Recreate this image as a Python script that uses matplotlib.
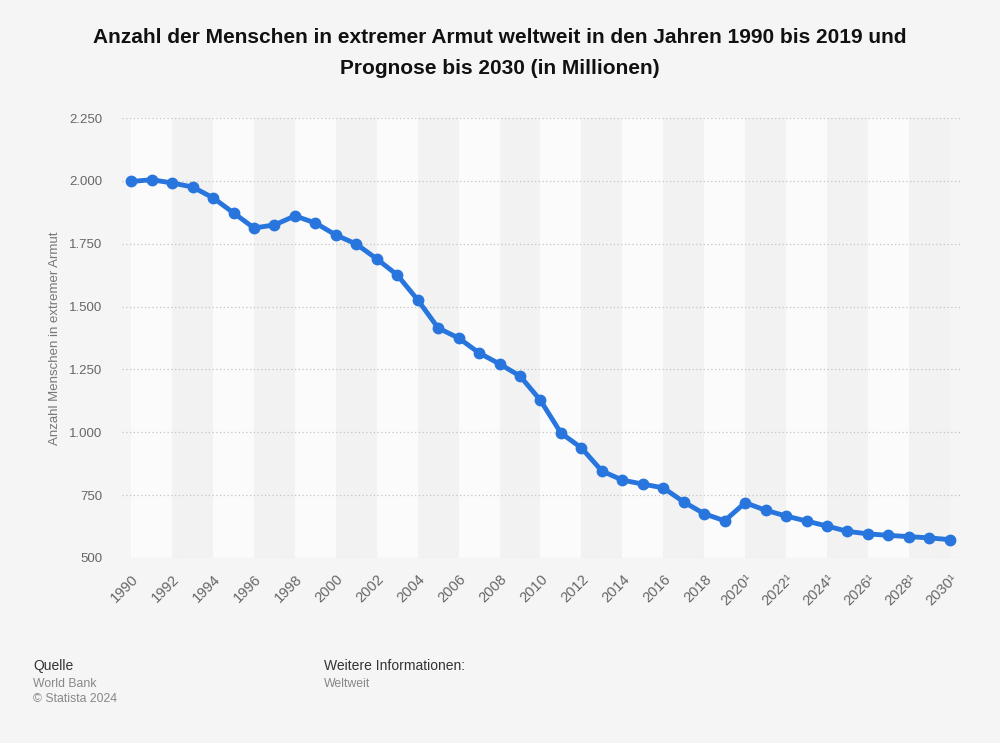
import numpy as np
from matplotlib import pyplot as plt

plt.rcParams['font.family'] = ['Liberation Sans', 'DejaVu Sans']

# data (millions of people in extreme poverty)
years = list(range(1990, 2031))
values = [1998, 2005, 1992, 1976, 1933, 1873, 1813, 1825, 1861, 1833,
          1785, 1749, 1690, 1626, 1527, 1415, 1375, 1316, 1272, 1224,
          1127, 997, 938, 846, 810, 794, 779, 723, 676, 648,
          720, 690, 667, 647, 627, 606, 596, 590, 585, 580, 573]
forecast_from = 2020

y_ticks = [500, 750, 1000, 1250, 1500, 1750, 2000, 2250]
y_tick_labels = ['500', '750', '1.000', '1.250', '1.500', '1.750', '2.000', '2.250']
x_ticks = list(range(1990, 2031, 2))
x_tick_labels = [str(y) + ('¹' if y >= forecast_from else '') for y in x_ticks]

bg = '#f5f5f5'
fig = plt.figure(figsize=(10, 7.43), dpi=100, facecolor=bg)
ax = fig.add_axes([0.122, 0.249, 0.838, 0.592])
ax.set_facecolor(bg)

x_lo, x_hi = 1989.55, 2030.5
ax.set_xlim(x_lo, x_hi)
ax.set_ylim(500, 2250)

# alternating vertical bands, two years each
for i, start in enumerate(range(1990, 2030, 2)):
    col = '#fbfbfb' if i % 2 == 0 else '#f2f2f2'
    ax.axvspan(start, min(start + 2, x_hi), color=col, zorder=0, lw=0)

for t in y_ticks:
    ax.axhline(t, color='#c4c4c4', lw=0.9, ls=(0, (1, 2)), zorder=1)

ax.plot(years, values, color='#2876dd', lw=3.5, marker='o', markersize=7.5,
        solid_capstyle='round', zorder=3, clip_on=False)

for s in ax.spines.values():
    s.set_visible(False)
ax.tick_params(length=0)
ax.set_yticks(y_ticks)
ax.set_yticklabels(y_tick_labels, color='#666666', fontsize=9.5)
ax.tick_params(axis='y', pad=14)
ax.set_xticks(x_ticks)
ax.set_xticklabels(x_tick_labels, rotation=45, ha='right', rotation_mode='anchor',
                   color='#666666', fontsize=10.5)
ax.tick_params(axis='x', pad=10)

ax.set_ylabel('Anzahl Menschen in extremer Armut', color='#777777', fontsize=9.5)
ax.yaxis.set_label_coords(-0.073, 0.5)

fig.text(0.5, 0.962, 'Anzahl der Menschen in extremer Armut weltweit in den Jahren 1990 bis 2019 und\n'
         'Prognose bis 2030 (in Millionen)', ha='center', va='top', fontsize=15,
         fontweight='bold', color='#111111', linespacing=1.8)

fig.text(0.033, 0.098, 'Quelle', fontsize=10, color='#333333')
fig.text(0.033, 0.076, 'World Bank', fontsize=8.8, color='#888888')
fig.text(0.033, 0.055, '© Statista 2024', fontsize=8.8, color='#888888')
fig.text(0.324, 0.098, 'Weitere Informationen:', fontsize=10, color='#333333')
fig.text(0.324, 0.076, 'Weltweit', fontsize=8.8, color='#888888')

fig.savefig('out.png', dpi=100, facecolor=bg)
